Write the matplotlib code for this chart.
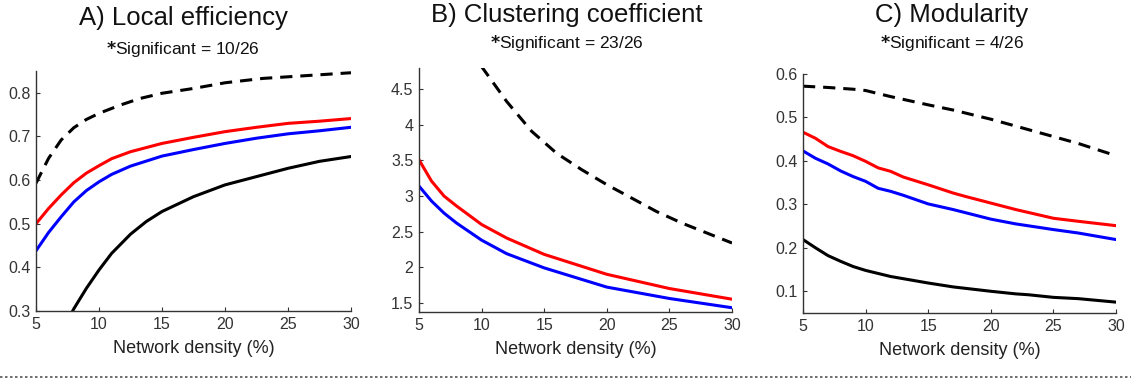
import matplotlib
matplotlib.use("Agg")
import matplotlib.pyplot as plt
from matplotlib.lines import Line2D

plt.rcParams['font.family'] = ['Liberation Sans', 'DejaVu Sans']

# ---- data ----
# A) Local efficiency
a_dash_x = [5, 6, 7, 8, 9, 10, 11.7, 13.25, 15, 17.5, 20, 23, 25.7, 30]
a_dash_y = [0.593, 0.650, 0.692, 0.720, 0.739, 0.753, 0.772, 0.787, 0.799, 0.810, 0.823, 0.833,
            0.838, 0.846]
a_red_x = [5, 6, 7, 8, 9, 10, 11, 12.5, 15, 17.5, 20, 22.5, 25, 27.5, 30]
a_red_y = [0.500, 0.535, 0.566, 0.594, 0.616, 0.633, 0.649, 0.665, 0.684, 0.698, 0.711, 0.721,
           0.730, 0.735, 0.741]
a_blue_x = [5, 6, 7, 8, 9, 10, 11, 12.5, 15, 17.5, 20, 22.5, 25, 27.5, 30]
a_blue_y = [0.438, 0.480, 0.516, 0.550, 0.576, 0.596, 0.613, 0.632, 0.655, 0.670, 0.684, 0.696,
            0.706, 0.713, 0.721]
a_black_x = [5, 6, 7, 8, 9, 10, 11, 12.5, 13.75, 15, 17.5, 20, 22.5, 25, 27.5, 30]
a_black_y = [0.12, 0.19, 0.25, 0.305, 0.352, 0.394, 0.432, 0.476, 0.505, 0.528, 0.562, 0.589,
             0.608, 0.627, 0.643, 0.654]

# B) Clustering coefficient
b_dash_x = [9, 10, 12, 14, 16, 18, 20, 22, 24, 26, 28, 30]
b_dash_y = [5.05, 4.82, 4.33, 3.91, 3.60, 3.37, 3.16, 2.97, 2.78, 2.62, 2.48, 2.34]
b_red_x = [5, 6, 7, 8, 10, 12, 15, 20, 25, 30]
b_red_y = [3.51, 3.21, 3.00, 2.86, 2.60, 2.41, 2.18, 1.90, 1.70, 1.55]
b_blue_x = [5, 6, 7, 8, 10, 12, 15, 20, 25, 30]
b_blue_y = [3.14, 2.93, 2.76, 2.62, 2.38, 2.19, 1.99, 1.72, 1.56, 1.43]

# C) Modularity
c_dash_x = [5, 7, 9, 10, 12, 15, 17, 20, 22, 25, 27, 30]
c_dash_y = [0.572, 0.569, 0.565, 0.562, 0.548, 0.529, 0.517, 0.496, 0.480, 0.456, 0.440, 0.412]
c_red_x = [5, 6, 7, 8, 9, 10, 11, 12, 13, 15, 17, 18, 20, 22, 25, 27, 30]
c_red_y = [0.466, 0.452, 0.433, 0.422, 0.412, 0.399, 0.384, 0.376, 0.363, 0.345,
           0.326, 0.318, 0.303, 0.288, 0.268, 0.261, 0.251]
c_blue_x = [5, 6, 7, 8, 9, 10, 11, 12, 13, 15, 17, 20, 22, 25, 27, 30]
c_blue_y = [0.423, 0.406, 0.393, 0.377, 0.364, 0.353, 0.337, 0.330, 0.321, 0.301,
            0.288, 0.266, 0.255, 0.242, 0.234, 0.219]
c_black_x = [5, 6, 7, 8, 9, 10, 11, 12, 13, 15, 17, 20, 22, 23, 25, 27, 30]
c_black_y = [0.219, 0.200, 0.182, 0.169, 0.157, 0.148, 0.141, 0.134, 0.129, 0.119,
             0.110, 0.100, 0.094, 0.092, 0.086, 0.083, 0.075]

titles = ["A) Local efficiency", "B) Clustering coefficient", "C) Modularity"]
signif = ["10/26", "23/26", "4/26"]
xticks = [5, 10, 15, 20, 25, 30]

W, H = 1131, 382
fig = plt.figure(figsize=(W / 100, H / 100), dpi=100)


def px_axes(x0, x1, ytop, ybot):
    return fig.add_axes([x0 / W, 1 - ybot / H, (x1 - x0) / W, (ybot - ytop) / H])


def style(ax, ylim, yticks, ytl):
    ax.set_xlim(5, 30)
    ax.set_ylim(*ylim)
    ax.set_xticks(xticks)
    ax.set_yticks(yticks)
    ax.set_yticklabels(ytl)
    for s in ['top', 'right']:
        ax.spines[s].set_visible(False)
    for s in ['left', 'bottom']:
        ax.spines[s].set_color('#333333')
        ax.spines[s].set_linewidth(1.0)
    ax.tick_params(direction='in', length=3, width=0.8, colors='#333333',
                   labelsize=11.5, pad=4)
    ax.set_xlabel("Network density (%)", fontsize=13, color='#222222', labelpad=6)


lw = 2.2
dash = (0, (4, 2.6))

axA = px_axes(36, 351, 71, 311)
axA.plot(a_dash_x, a_dash_y, color='black', lw=lw, linestyle=dash)
axA.plot(a_red_x, a_red_y, color='#ff0000', lw=lw)
axA.plot(a_blue_x, a_blue_y, color='#0000ff', lw=lw)
axA.plot(a_black_x, a_black_y, color='black', lw=lw)
style(axA, (0.3, 0.85), [0.3, 0.4, 0.5, 0.6, 0.7, 0.8],
      ["0.3", "0.4", "0.5", "0.6", "0.7", "0.8"])

axB = px_axes(419, 732, 68, 312)
axB.plot(b_dash_x, b_dash_y, color='black', lw=lw, linestyle=dash)
axB.plot(b_red_x, b_red_y, color='#ff0000', lw=lw)
axB.plot(b_blue_x, b_blue_y, color='#0000ff', lw=lw)
style(axB, (1.37, 4.8), [1.5, 2, 2.5, 3, 3.5, 4, 4.5],
      ["1.5", "2", "2.5", "3", "3.5", "4", "4.5"])

axC = px_axes(803, 1116, 74, 313)
axC.plot(c_dash_x, c_dash_y, color='black', lw=lw, linestyle=dash)
axC.plot(c_red_x, c_red_y, color='#ff0000', lw=lw)
axC.plot(c_blue_x, c_blue_y, color='#0000ff', lw=lw)
axC.plot(c_black_x, c_black_y, color='black', lw=lw)
style(axC, (0.05, 0.6), [0.1, 0.2, 0.3, 0.4, 0.5, 0.6],
      ["0.1", "0.2", "0.3", "0.4", "0.5", "0.6"])

# titles and subtitles (pixel positions)
title_pos = [(183, 18, 49), (567, 15, 43), (952, 15, 43)]
for (cx, ty, sy), t, s in zip(title_pos, titles, signif):
    fig.text(cx / W, 1 - ty / H, t, ha='center', va='center', fontsize=18.5, color='#111111')
    fig.text(cx / W, 1 - sy / H, r"$\mathbf{*}$Significant = " + s, ha='center', va='center',
             fontsize=12.5, color='#111111')

# dotted separator along the bottom
fig.add_artist(Line2D([0, 1], [1 - 377 / H, 1 - 377 / H], transform=fig.transFigure,
                      color='#555555', lw=1.2, linestyle=(0, (1.5, 1.5))))

fig.savefig("out.png", dpi=100, facecolor='white')
